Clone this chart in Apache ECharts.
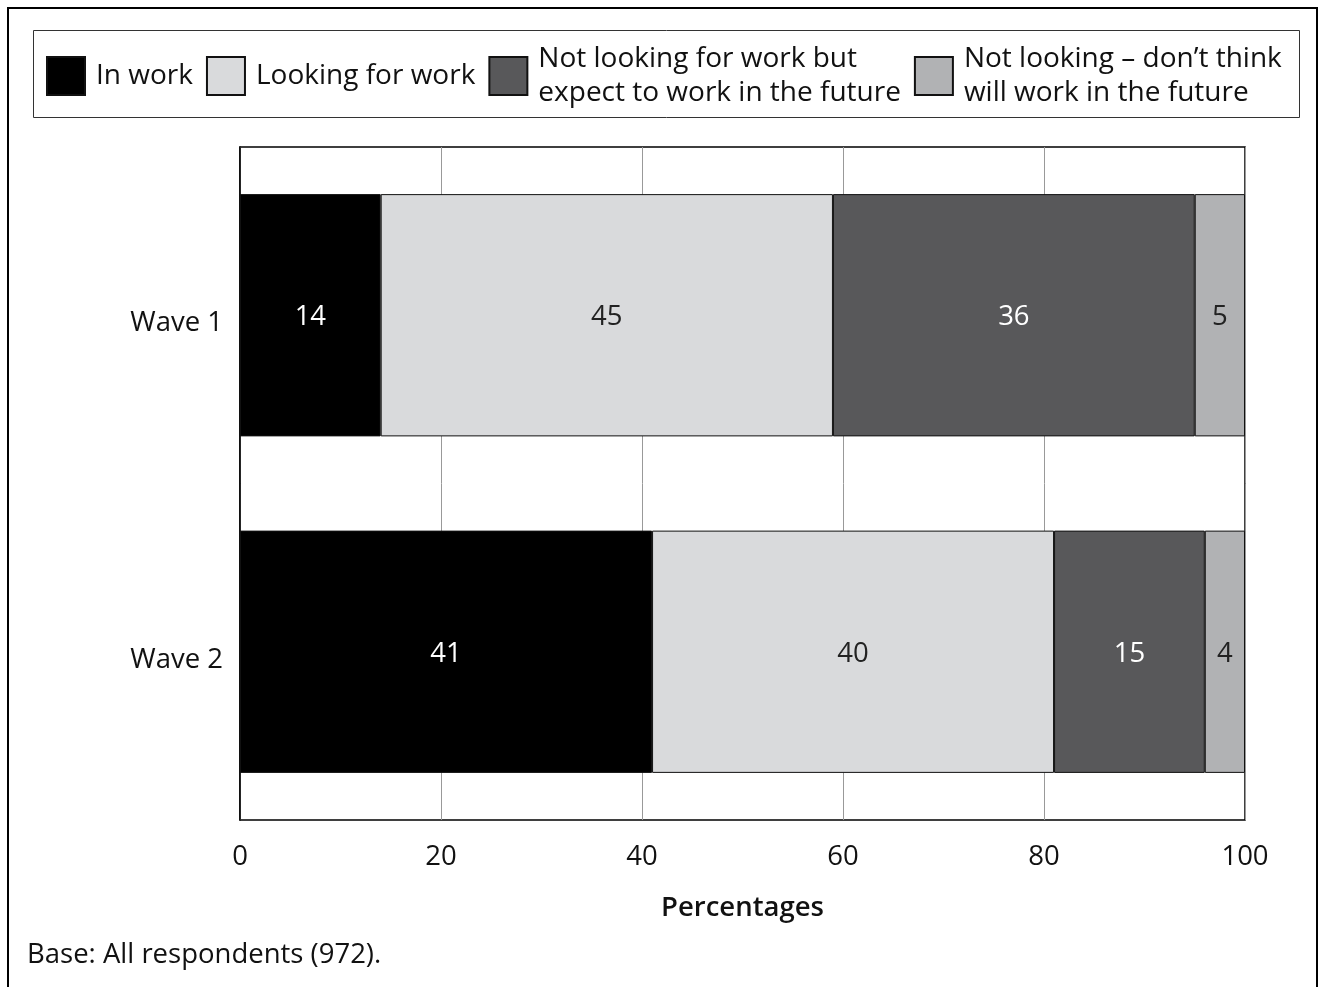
<!DOCTYPE html>
<html>
<head>
<meta charset="utf-8">
<script src="https://cdn.jsdelivr.net/npm/echarts@6/dist/echarts.min.js"></script>
<style>
html,body{margin:0;padding:0;background:#fff;}
#c{width:1325px;height:987px;}
</style>
</head>
<body>
<div id="c"></div>
<script>
const categories = ['Wave 1', 'Wave 2'];
const seriesNames = ['In work', 'Looking for work', 'Not looking for work but\nexpect to work in the future', 'Not looking – don’t think\nwill work in the future'];
const inWork = [14, 41];
const lookingForWork = [45, 40];
const notLookingExpect = [36, 15];
const notLookingDont = [5, 4];
const xTicks = [0, 20, 40, 60, 80, 100];
const colors = ['#000000', '#d9dadc', '#58585a', '#b1b2b4'];
const labelColors = ['#ffffff', '#222222', '#ffffff', '#222222'];
const FONT = 'Open Sans';
const FS = 27.5;

const values = [inWork, lookingForWork, notLookingExpect, notLookingDont];
const chart = echarts.init(document.getElementById('c'), null, {renderer: 'canvas'});
chart.setOption({
  animation: false,
  textStyle: {fontFamily: FONT},
  graphic: [
    {type: 'rect', shape: {x: 8, y: 8, width: 1309, height: 1000}, style: {fill: 'none', stroke: '#000', lineWidth: 2}, silent: true},
    {type: 'rect', shape: {x: 33.5, y: 30.5, width: 1266, height: 87}, style: {fill: 'none', stroke: '#333', lineWidth: 1}, silent: true},
    {type: 'text', left: 27, top: 941, style: {text: 'Base: All respondents (972).', font: FS + 'px "' + FONT + '"', fill: '#111'}}
  ],
  legend: {
    left: 46, top: 42, padding: 0, itemGap: 13,
    itemWidth: 38, itemHeight: 38,
    icon: 'rect',
    data: seriesNames,
    textStyle: {fontSize: 28, lineHeight: 34, color: '#111', fontFamily: FONT, padding: [0, 0, 0, 6]}
  },
  grid: {left: 240, right: 80, top: 147, bottom: 167, show: true, borderColor: '#000', borderWidth: 1.5, containLabel: false},
  xAxis: {
    type: 'value', min: 0, max: 100, interval: 20,
    name: 'Percentages', nameLocation: 'middle', nameGap: 74,
    nameTextStyle: {fontSize: FS, fontWeight: 600, color: '#111', fontFamily: FONT},
    axisLine: {show: false}, axisTick: {show: false},
    axisLabel: {fontSize: FS, color: '#111', margin: 23, fontFamily: FONT, formatter: v => xTicks.includes(v) ? String(v) : ''},
    splitLine: {show: true, lineStyle: {color: '#999', width: 1}}
  },
  yAxis: {
    type: 'category', data: categories, inverse: true,
    axisLine: {show: true, lineStyle: {color: '#000', width: 1.5}}, axisTick: {show: false},
    axisLabel: {fontSize: FS, color: '#111', margin: 17, fontFamily: FONT, verticalAlign: 'top', lineHeight: 16}
  },
  series: values.map((arr, i) => ({
    name: seriesNames[i], type: 'bar', stack: 'total', data: arr,
    barCategoryGap: '28%',
    itemStyle: {color: colors[i], borderColor: '#111', borderWidth: 1},
    label: {show: true, position: 'inside', offset: [0, 2], fontSize: FS, color: labelColors[i], fontFamily: FONT},
    emphasis: {disabled: true}
  }))
});
</script>
</body>
</html>
